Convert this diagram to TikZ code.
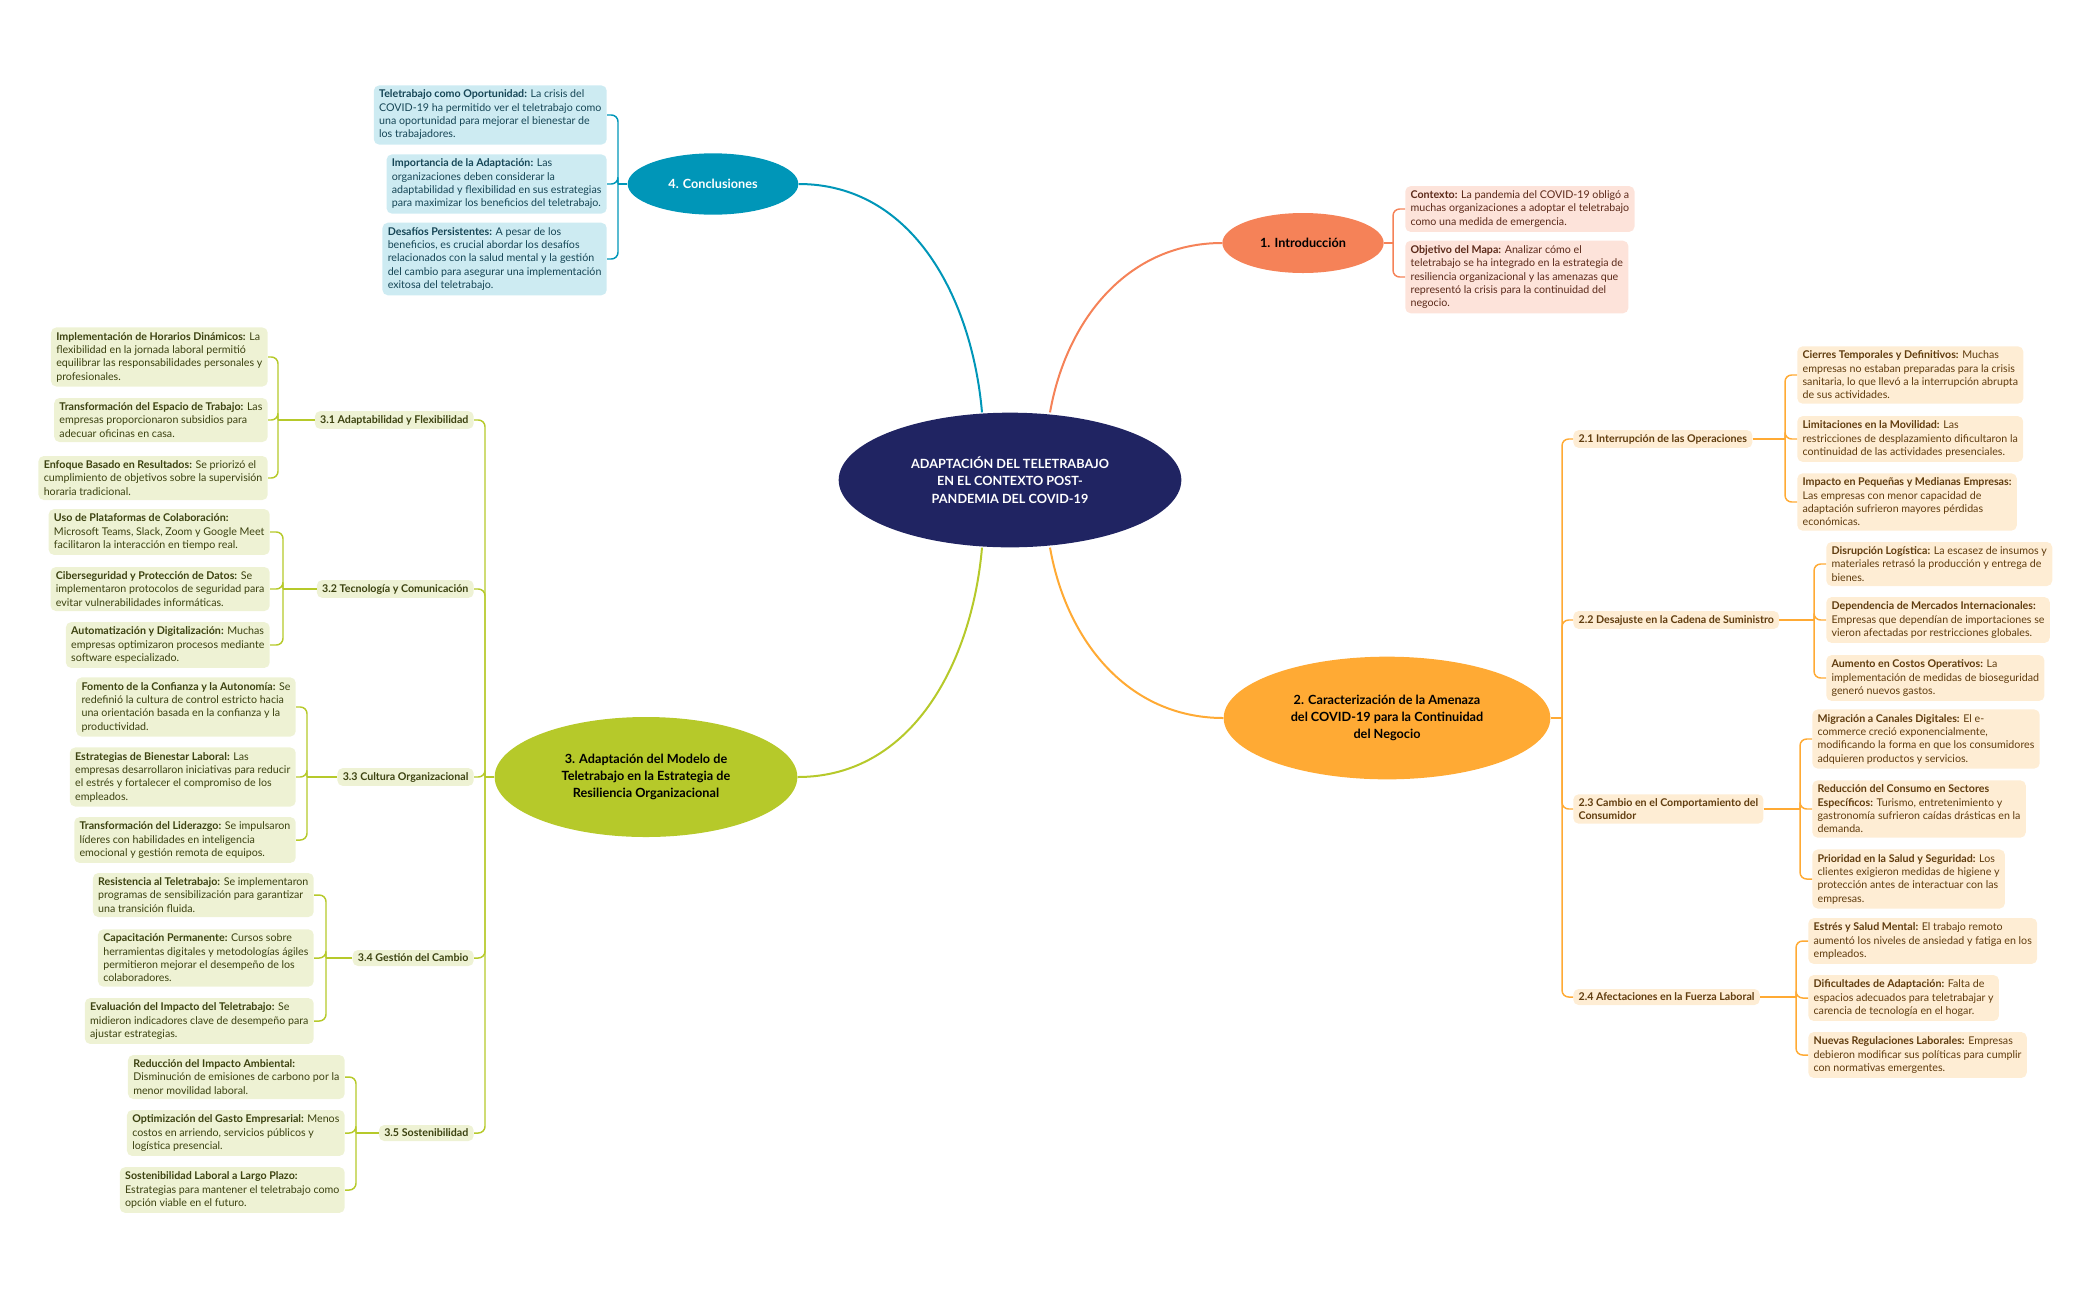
\documentclass[tikz,border=0pt]{standalone}
\usepackage{fontspec}
\setmainfont{Lato}
\usetikzlibrary{shapes.geometric}

\definecolor{navy}{RGB}{32,36,98}
\definecolor{tealC}{RGB}{0,150,184}
\definecolor{tealL}{RGB}{205,235,242}
\definecolor{tealT}{RGB}{22,70,86}
\definecolor{coral}{RGB}{245,130,88}
\definecolor{coralL}{RGB}{253,227,218}
\definecolor{coralT}{RGB}{92,42,26}
\definecolor{amber}{RGB}{255,170,52}
\definecolor{amberL}{RGB}{254,237,212}
\definecolor{amberT}{RGB}{96,60,14}
\definecolor{lime}{RGB}{182,201,42}
\definecolor{limeL}{RGB}{238,242,212}
\definecolor{limeT}{RGB}{60,66,16}

\newcommand{\leaffont}{\fontsize{8}{10}\selectfont}

\begin{document}
\begin{tikzpicture}[x=0.75pt,y=-0.75pt,
  topic/.style={ellipse,inner sep=0pt,align=center,font=\fontsize{9.5}{13}\selectfont\bfseries},
  leaf/.style={rounded corners=4pt,align=left,inner xsep=4pt,inner ysep=3.5pt,font=\leaffont},
  sub/.style={rounded corners=4pt,align=left,inner xsep=4pt,inner ysep=3pt,font=\leaffont\bfseries},
  link/.style={line width=1.5pt},
  brace/.style={line width=1.1pt,rounded corners=5pt}]
\useasboundingbox (0,0) rectangle (2097,1300);

% Central topic
\node[topic,fill=navy,text=white,minimum width=257pt,minimum height=101pt] (root) at (1010,480)
  {ADAPTACIÓN DEL TELETRABAJO\\EN EL CONTEXTO POST-\\PANDEMIA DEL COVID-19};

% Main branches
\node[topic,fill=tealC,text=white,minimum width=128pt,minimum height=46pt] (concl) at (713,184) {4. Conclusiones};
\node[topic,fill=coral,text=black,minimum width=121pt,minimum height=45pt] (intro) at (1303,243) {1. Introducción};
\node[topic,fill=amber,text=black,minimum width=245pt,minimum height=92pt] (amen) at (1387,718)
  {2. Caracterización de la Amenaza\\del COVID-19 para la Continuidad\\del Negocio};
\node[topic,fill=lime,text=black,minimum width=227pt,minimum height=90pt] (adap) at (646,777)
  {3. Adaptación del Modelo de\\Teletrabajo en la Estrategia de\\Resiliencia Organizacional};

\draw[link,tealC] ([xshift=-21pt]root.north) to[out=95,in=0] (concl.east);
\draw[link,coral] ([xshift=30pt]root.north) to[out=80,in=180] (intro.west);
\draw[link,amber] ([xshift=30pt]root.south) to[out=-80,in=180] (amen.west);
\draw[link,lime] ([xshift=-21pt]root.south) to[out=-95,in=0] (adap.east);

% 4. Conclusiones
\begin{scope}[every node/.style={leaf,fill=tealL,text=tealT,anchor=east}]
\node (c4a) at (607,115) {\textbf{Teletrabajo como Oportunidad:} La crisis del\\COVID-19 ha permitido ver el teletrabajo como\\una oportunidad para mejorar el bienestar de\\los trabajadores.};
\node (c4b) at (607,184) {\textbf{Importancia de la Adaptación:} Las\\organizaciones deben considerar la\\adaptabilidad y flexibilidad en sus estrategias\\para maximizar los beneficios del teletrabajo.};
\node (c4c) at (607,259) {\textbf{Desafíos Persistentes:} A pesar de los\\beneficios, es crucial abordar los desafíos\\relacionados con la salud mental y la gestión\\del cambio para asegurar una implementación\\exitosa del teletrabajo.};
\end{scope}
\coordinate (b4) at (618,184);
\draw[brace,tealC] (concl.west) -- (b4);
\foreach \n in {a,b,c} \draw[brace,tealC] (b4) |- (c4\n.east);

% 1. Introduccion
\begin{scope}[every node/.style={leaf,fill=coralL,text=coralT,anchor=west}]
\node (i1a) at (1405,209) {\textbf{Contexto:} La pandemia del COVID-19 obligó a\\muchas organizaciones a adoptar el teletrabajo\\como una medida de emergencia.};
\node (i1b) at (1405,277) {\textbf{Objetivo del Mapa:} Analizar cómo el\\teletrabajo se ha integrado en la estrategia de\\resiliencia organizacional y las amenazas que\\representó la crisis para la continuidad del\\negocio.};
\end{scope}
\coordinate (b1) at (1393,243);
\draw[brace,coral] (intro.east) -- (b1);
\foreach \n in {a,b} \draw[brace,coral] (b1) |- (i1\n.west);

% 2. Amenaza
\begin{scope}[every node/.style={sub,fill=amberL,text=amberT,anchor=west}]
\node (s21) at (1573,439) {2.1 Interrupción de las Operaciones};
\node (s22) at (1573,620) {2.2 Desajuste en la Cadena de Suministro};
\node (s23) at (1573,809) {2.3 Cambio en el Comportamiento del\\Consumidor};
\node (s24) at (1573,997) {2.4 Afectaciones en la Fuerza Laboral};
\end{scope}
\coordinate (t2) at (1562,718);
\draw[brace,amber] (amen.east) -- (t2);
\foreach \n in {1,2,3,4} \draw[brace,amber] (t2) |- (s2\n.west);

\begin{scope}[every node/.style={leaf,fill=amberL,text=amberT,anchor=west}]
\node (s21a) at (1797,375) {\textbf{Cierres Temporales y Definitivos:} Muchas\\empresas no estaban preparadas para la crisis\\sanitaria, lo que llevó a la interrupción abrupta\\de sus actividades.};
\node (s21b) at (1797,439) {\textbf{Limitaciones en la Movilidad:} Las\\restricciones de desplazamiento dificultaron la\\continuidad de las actividades presenciales.};
\node (s21c) at (1797,502) {\textbf{Impacto en Pequeñas y Medianas Empresas:}\\Las empresas con menor capacidad de\\adaptación sufrieron mayores pérdidas\\económicas.};
\node (s22a) at (1826,564) {\textbf{Disrupción Logística:} La escasez de insumos y\\materiales retrasó la producción y entrega de\\bienes.};
\node (s22b) at (1826,620) {\textbf{Dependencia de Mercados Internacionales:}\\Empresas que dependían de importaciones se\\vieron afectadas por restricciones globales.};
\node (s22c) at (1826,678) {\textbf{Aumento en Costos Operativos:} La\\implementación de medidas de bioseguridad\\generó nuevos gastos.};
\node (s23a) at (1812,739) {\textbf{Migración a Canales Digitales:} El e-\\commerce creció exponencialmente,\\modificando la forma en que los consumidores\\adquieren productos y servicios.};
\node (s23b) at (1812,809) {\textbf{Reducción del Consumo en Sectores}\\\textbf{Específicos:} Turismo, entretenimiento y\\gastronomía sufrieron caídas drásticas en la\\demanda.};
\node (s23c) at (1812,879) {\textbf{Prioridad en la Salud y Seguridad:} Los\\clientes exigieron medidas de higiene y\\protección antes de interactuar con las\\empresas.};
\node (s24a) at (1808,941) {\textbf{Estrés y Salud Mental:} El trabajo remoto\\aumentó los niveles de ansiedad y fatiga en los\\empleados.};
\node (s24b) at (1808,998) {\textbf{Dificultades de Adaptación:} Falta de\\espacios adecuados para teletrabajar y\\carencia de tecnología en el hogar.};
\node (s24c) at (1808,1055) {\textbf{Nuevas Regulaciones Laborales:} Empresas\\debieron modificar sus políticas para cumplir\\con normativas emergentes.};
\end{scope}
\foreach \s/\bx in {1/1785,2/1814,3/1800,4/1796} {
  \coordinate (b2\s) at (\bx,0);
  \draw[brace,amber] (s2\s.east) -- (s2\s.east -| b2\s);
  \foreach \n in {a,c} \draw[brace,amber] (s2\s.east -| b2\s) |- (s2\s\n.west);
  \draw[brace,amber] (s2\s.east -| b2\s) -- (s2\s b.west -| b2\s) -- (s2\s b.west);
}

% 3. Adaptacion
\begin{scope}[every node/.style={sub,fill=limeL,text=limeT,anchor=east}]
\node (s31) at (474,420) {3.1 Adaptabilidad y Flexibilidad};
\node (s32) at (474,589) {3.2 Tecnología y Comunicación};
\node (s33) at (474,777) {3.3 Cultura Organizacional};
\node (s34) at (474,958) {3.4 Gestión del Cambio};
\node (s35) at (474,1133) {3.5 Sostenibilidad};
\end{scope}
\coordinate (t3) at (485,777);
\draw[brace,lime] (adap.west) -- (t3);
\foreach \n in {1,2,3,4,5} \draw[brace,lime] (t3) |- (s3\n.east);

\begin{scope}[every node/.style={leaf,fill=limeL,text=limeT,anchor=east}]
\node (s31a) at (268,357) {\textbf{Implementación de Horarios Dinámicos:} La\\flexibilidad en la jornada laboral permitió\\equilibrar las responsabilidades personales y\\profesionales.};
\node (s31b) at (268,420) {\textbf{Transformación del Espacio de Trabajo:} Las\\empresas proporcionaron subsidios para\\adecuar oficinas en casa.};
\node (s31c) at (268,478) {\textbf{Enfoque Basado en Resultados:} Se priorizó el\\cumplimiento de objetivos sobre la supervisión\\horaria tradicional.};
\node (s32a) at (270,532) {\textbf{Uso de Plataformas de Colaboración:}\\Microsoft Teams, Slack, Zoom y Google Meet\\facilitaron la interacción en tiempo real.};
\node (s32b) at (270,589) {\textbf{Ciberseguridad y Protección de Datos:} Se\\implementaron protocolos de seguridad para\\evitar vulnerabilidades informáticas.};
\node (s32c) at (270,645) {\textbf{Automatización y Digitalización:} Muchas\\empresas optimizaron procesos mediante\\software especializado.};
\node (s33a) at (296,707) {\textbf{Fomento de la Confianza y la Autonomía:} Se\\redefinió la cultura de control estricto hacia\\una orientación basada en la confianza y la\\productividad.};
\node (s33b) at (296,777) {\textbf{Estrategias de Bienestar Laboral:} Las\\empresas desarrollaron iniciativas para reducir\\el estrés y fortalecer el compromiso de los\\empleados.};
\node (s33c) at (296,840) {\textbf{Transformación del Liderazgo:} Se impulsaron\\líderes con habilidades en inteligencia\\emocional y gestión remota de equipos.};
\node (s34a) at (314,895) {\textbf{Resistencia al Teletrabajo:} Se implementaron\\programas de sensibilización para garantizar\\una transición fluida.};
\node (s34b) at (314,958) {\textbf{Capacitación Permanente:} Cursos sobre\\herramientas digitales y metodologías ágiles\\permitieron mejorar el desempeño de los\\colaboradores.};
\node (s34c) at (314,1021) {\textbf{Evaluación del Impacto del Teletrabajo:} Se\\midieron indicadores clave de desempeño para\\ajustar estrategias.};
\node (s35a) at (345,1077) {\textbf{Reducción del Impacto Ambiental:}\\Disminución de emisiones de carbono por la\\menor movilidad laboral.};
\node (s35b) at (345,1133) {\textbf{Optimización del Gasto Empresarial:} Menos\\costos en arriendo, servicios públicos y\\logística presencial.};
\node (s35c) at (345,1190) {\textbf{Sostenibilidad Laboral a Largo Plazo:}\\Estrategias para mantener el teletrabajo como\\opción viable en el futuro.};
\end{scope}
\foreach \s/\bx in {1/278,2/283,3/307,4/326,5/356} {
  \coordinate (b3\s) at (\bx,0);
  \draw[brace,lime] (s3\s.west) -- (s3\s.west -| b3\s);
  \foreach \n in {a,c} \draw[brace,lime] (s3\s.west -| b3\s) |- (s3\s\n.east);
  \draw[brace,lime] (s3\s.west -| b3\s) -- (s3\s b.east -| b3\s) -- (s3\s b.east);
}
\end{tikzpicture}
\end{document}
